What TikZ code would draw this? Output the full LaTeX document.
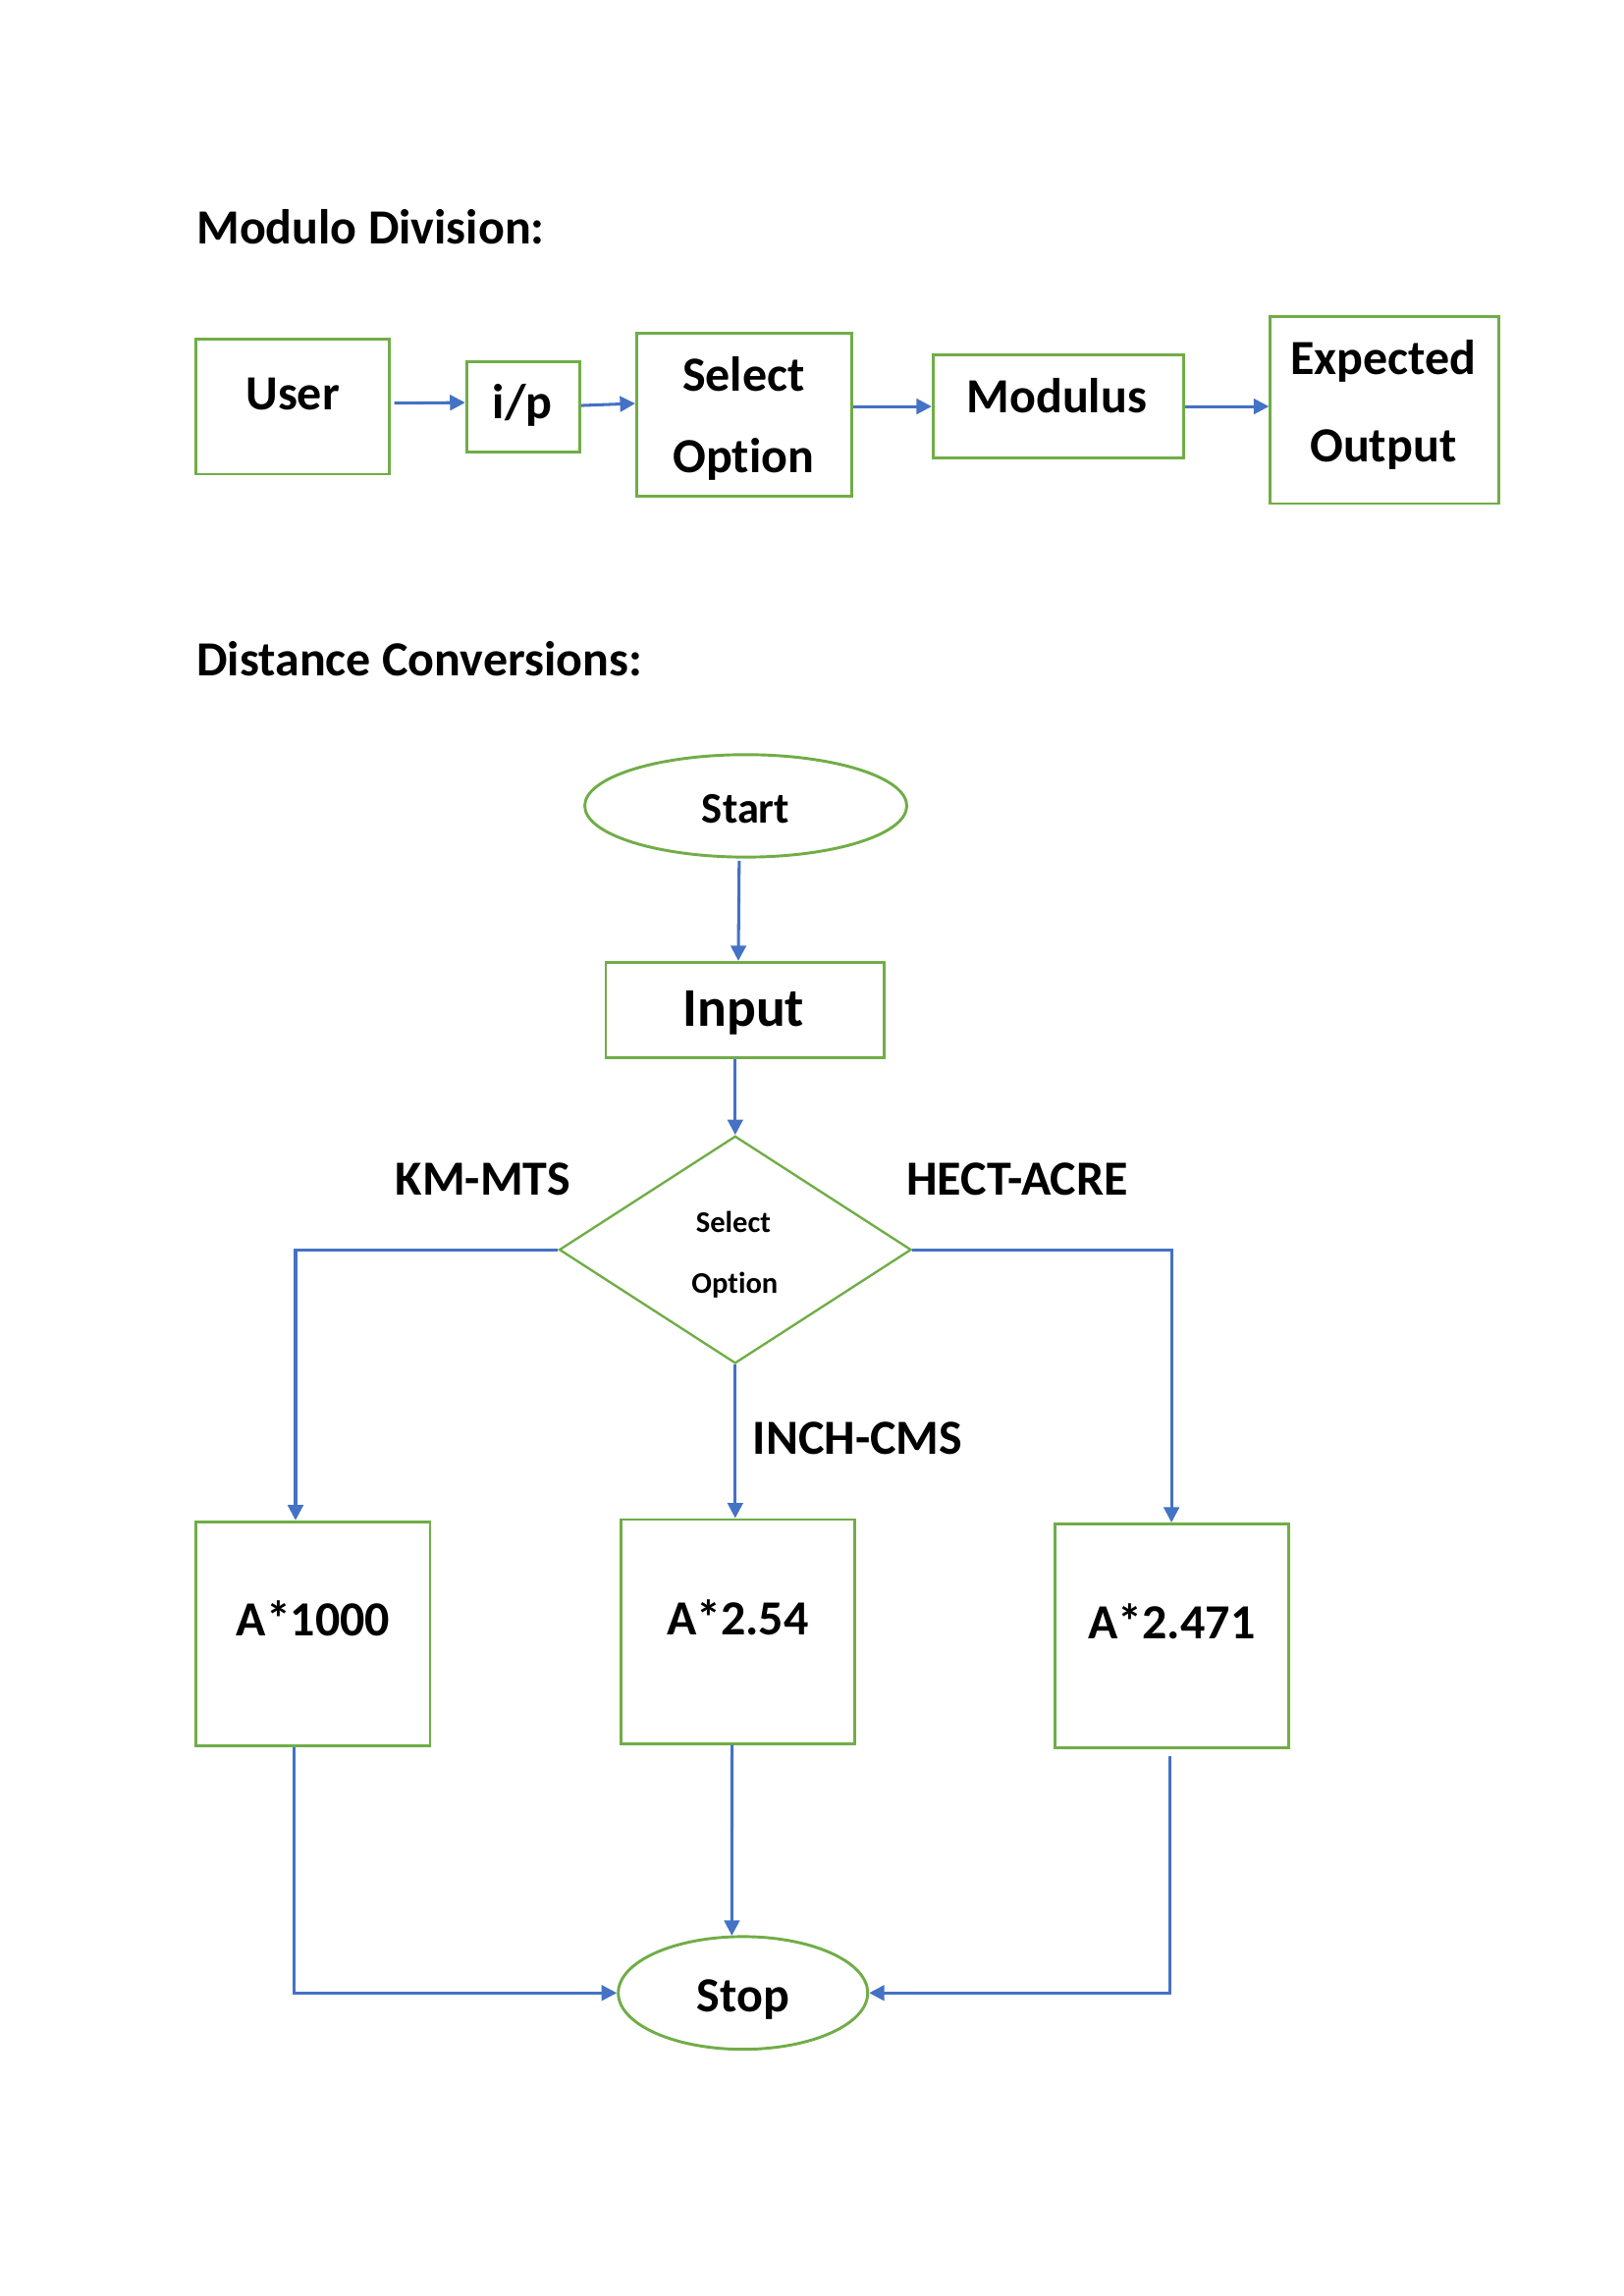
\documentclass[tikz,border=0pt]{standalone}
\usepackage{fontspec}
\setmainfont{Carlito}[Ligatures=NoCommon]
\usetikzlibrary{arrows.meta,shapes.geometric,fit,calc}
\definecolor{offgreen}{HTML}{70AD47}
\definecolor{offblue}{HTML}{4472C4}
\begin{document}
\begin{tikzpicture}[x=0.5366pt,y=-0.5366pt,
  gbox/.style={draw=offgreen,line width=1.05pt,inner sep=0pt},
  arr/.style={draw=offblue,line width=1.1pt,-{Triangle[length=5.6pt,width=5.6pt]}},
  txt/.style={inner sep=0pt,anchor=base,font=\bfseries\fontsize{18}{20}\selectfont},
  head/.style={inner sep=0pt,anchor=base west,font=\bfseries\fontsize{18}{20}\selectfont}]
\useasboundingbox[fill=white] (0,0) rectangle (1109.4,1569);

% ---------- Modulo Division ----------
\node[head] (h1) at (134,166.7) {Modulo Division:};

\node[gbox,fit={(134,232)(266,324)}] (user) {};
\node[txt] (usert) at (200,279.8) {User};
\node[gbox,fit={(318.8,247)(396,309.2)}] (ip) {};
\node[txt] (ipt) at (357,286.4) {i/p};
\node[gbox,fit={(435,227.5)(582,338.9)}] (sel) {};
\node[txt] (sela) at (508,267.3) {Select};
\node[txt] (selb) at (508,323.3) {Option};
\node[gbox,fit={(637.5,242.7)(808.9,312.8)}] (modulus) {};
\node[txt] (modt) at (722,282.3) {Modulus};
\node[gbox,fit={(867.9,216.6)(1024.2,344.1)}] (expected) {};
\node[txt] (expa) at (945,256.2) {Expected};
\node[txt] (expb) at (945,315.4) {Output};

\draw[arr] ($(user.east)+(2.5,-2.5)$) -- ($(ip.west)+(0,-3)$);
\draw[arr] ($(ip.east)+(0,-1)$) -- ($(sel.west)+(0,-7.5)$);
\draw[arr] (sel.east |- modulus.west) -- (modulus.west);
\draw[arr] (modulus.east) -- (modulus.east -| expected.west);

% ---------- Distance Conversions ----------
\node[head] (h2) at (134,462.1) {Distance Conversions:};

\node[ellipse,draw=offgreen,line width=1.05pt,inner sep=0pt,minimum width=220*0.5366pt,minimum height=70*0.5366pt] (start) at (509.5,550.7) {};
\node[txt,font=\bfseries\fontsize{16}{18}\selectfont] (startt) at (509.5,562.6) {Start};

\node[gbox,fit={(413.9,657.6)(603.9,722.5)}] (input) {};
\node[txt,font=\bfseries\fontsize{20}{22}\selectfont] (inputt) at (508,701.5) {Input};

\node[diamond,draw=offgreen,line width=0.85pt,inner sep=0pt,minimum width=240.5*0.5366pt,minimum height=155.4*0.5366pt] (dia) at (502.3,854) {};
\node[txt,font=\bfseries\fontsize{11}{13}\selectfont] (diaa) at (501,842.5) {Select};
\node[txt,font=\bfseries\fontsize{11}{13}\selectfont] (diab) at (502,883.7) {Option};

\node[txt] (km) at (330,817) {KM-MTS};
\node[txt] (hect) at (695,817) {HECT-ACRE};
\node[txt,anchor=base west] (inch) at (514,994) {INCH-CMS};

\node[gbox,fit={(134,1039.9)(293.8,1193.3)}] (a1000) {};
\node[txt] (a1000t) at (214,1117.9) {A*1000};
\node[gbox,fit={(424.4,1038.4)(583.8,1191.4)}] (a254) {};
\node[txt] (a254t) at (504,1117.3) {A*2.54};
\node[gbox,fit={(720.5,1041.4)(880.2,1194.5)}] (a2471) {};
\node[txt] (a2471t) at (800.5,1120) {A*2.471};

\node[ellipse,draw=offgreen,line width=1.05pt,inner sep=0pt,minimum width=170.4*0.5366pt,minimum height=77*0.5366pt] (stop) at (507.6,1361.9) {};
\node[txt] (stopt) at (507.6,1374.7) {Stop};

\draw[arr] ($(start.south)+(-4.5,1.5)$) -- ($(input.north)+(-4.5,0)$);
\draw[arr] (input.south -| dia.north) -- (dia.north);
\draw[arr] (dia.west) -| ($(a1000.north)+(-12,0)$);
\draw[arr] (dia.east) -| (a2471.north);
\draw[arr] (dia.south) -- (dia.south |- a254.north);
\draw[arr] ($(a1000.south)+(-13,0)$) |- (stop.west);
\draw[arr] ($(a254.south)+(-4,0)$) -- ($(stop.north)+(-7.6,0.3)$);
\draw[arr] ($(a2471.south)+(-1,4.5)$) |- (stop.east);
\end{tikzpicture}
\end{document}
